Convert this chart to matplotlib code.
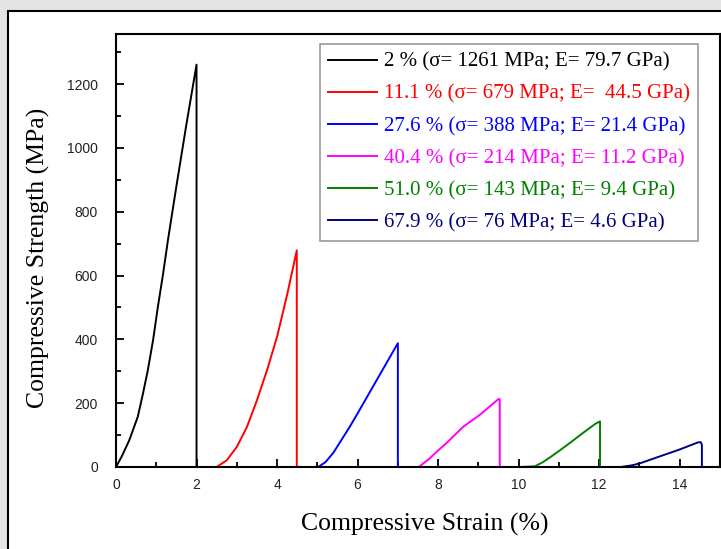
import matplotlib
matplotlib.use("Agg")
import matplotlib.pyplot as plt
from matplotlib.patches import Rectangle
from matplotlib.ticker import MultipleLocator

# strain (%) and stress (MPa), last point is the drop to zero
strain_2 = [0, 0.15, 0.33, 0.54, 0.67, 0.79, 0.92, 1.04, 1.17, 1.29, 1.5, 1.75, 2.0, 2.0]
stress_2 = [0, 35, 84, 157, 230, 303, 397, 502, 606, 711, 880, 1075, 1261, 0]
strain_11 = [2.5, 2.75, 3.0, 3.25, 3.5, 3.75, 4.0, 4.25, 4.49, 4.49]
stress_11 = [0, 21, 63, 125, 209, 303, 408, 540, 679, 0]
strain_27 = [5.02, 5.2, 5.4, 5.6, 5.8, 6.0, 6.5, 7.0, 7.0]
stress_27 = [0, 15, 45, 85, 125, 168, 278, 388, 0]
strain_40 = [7.52, 7.79, 8.0, 8.2, 8.62, 9.03, 9.5, 9.53, 9.53]
stress_40 = [0, 27, 52, 74, 126, 163, 213, 213, 0]
strain_51 = [10.03, 10.4, 10.6, 10.8, 11.0, 11.3, 11.6, 11.9, 12.02, 12.02]
stress_51 = [0, 2, 15, 32, 50, 78, 107, 135, 143, 0]
strain_67 = [12.54, 12.8, 13.0, 13.5, 14.0, 14.45, 14.52, 14.55, 14.55]
stress_67 = [0, 5, 11, 33, 55, 77, 78, 70, 0]

labels = ['2 % (σ= 1261 MPa; E= 79.7 GPa)',
          '11.1 % (σ= 679 MPa; E=  44.5 GPa)',
          '27.6 % (σ= 388 MPa; E= 21.4 GPa)',
          '40.4 % (σ= 214 MPa; E= 11.2 GPa)',
          '51.0 % (σ= 143 MPa; E= 9.4 GPa)',
          '67.9 % (σ= 76 MPa; E= 4.6 GPa)']
colors = ['black', '#ff0000', '#0000ff', '#ff00ff', '#008000', '#000080']

series = [(strain_2, stress_2), (strain_11, stress_11), (strain_27, stress_27),
          (strain_40, stress_40), (strain_51, stress_51), (strain_67, stress_67)]

fig = plt.figure(figsize=(7.21, 5.49), dpi=100)
fig.patch.set_facecolor('#e3e3e3')
# white panel with black frame
fig.add_artist(Rectangle((8 / 721, -0.1), 1.2, 1.1 - 11 / 549, transform=fig.transFigure,
                         facecolor='white', edgecolor='black', linewidth=1.5, zorder=0))

ax = fig.add_axes([116 / 721, 1 - 467 / 549, 604 / 721, 433 / 549])
for (x, y), c, lab in zip(series, colors, labels):
    ax.plot(x, y, color=c, linewidth=1.4, label=lab)

ax.set_xlim(0, 15)
ax.set_ylim(0, 1357)
ax.xaxis.set_major_locator(MultipleLocator(2))
ax.xaxis.set_minor_locator(MultipleLocator(1))
ax.yaxis.set_major_locator(MultipleLocator(200))
ax.yaxis.set_minor_locator(MultipleLocator(100))
ax.tick_params(which='both', direction='in', width=1.3, labelsize=10)
ax.tick_params(which='major', length=6)
ax.tick_params(which='minor', length=3.5)
ax.tick_params(axis='x', which='major', pad=8)
ax.tick_params(axis='y', which='major', pad=13)
for lab in ax.get_xticklabels() + ax.get_yticklabels():
    lab.set_family('Liberation Sans')
    lab.set_color('#222222')
for s in ax.spines.values():
    s.set_linewidth(1.5)

ax.set_xlabel('Compressive Strain (%)', family='Liberation Serif', fontsize=18.5)
ax.set_ylabel('Compressive Strength (MPa)', family='Liberation Serif', fontsize=18.5)
ax.xaxis.set_label_coords(0.512, -0.106)
ax.yaxis.set_label_coords(-0.109, 0.483)

leg = ax.legend(loc='upper right', bbox_to_anchor=(0.9636, 0.977), borderaxespad=0,
                prop={'family': 'Liberation Serif', 'size': 15}, handlelength=2.35,
                handletextpad=0.3, labelspacing=0.6, fancybox=False, framealpha=1,
                edgecolor='#999999', borderpad=0.4)
leg.get_frame().set_linewidth(1.2)
for t, c in zip(leg.get_texts(), colors):
    t.set_color(c)

fig.savefig('out.png', dpi=100, facecolor=fig.get_facecolor())
